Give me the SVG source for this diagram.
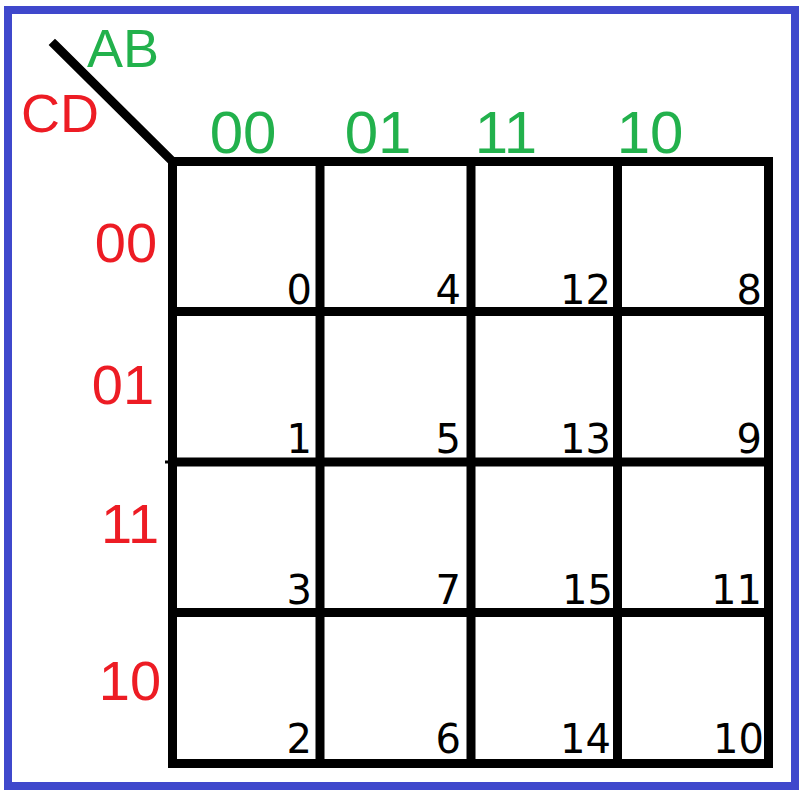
<svg xmlns="http://www.w3.org/2000/svg" width="806" height="796" viewBox="0 0 806 796">
<style>
.g{fill:#22b14c;font-family:"Liberation Sans",Arial,sans-serif;font-size:60px;text-anchor:middle}
.r{fill:#ed1c24;font-family:"Liberation Sans",Arial,sans-serif;font-size:56px;text-anchor:middle}
.h{font-size:54px}
.n{fill:#000;font-family:"DejaVu Sans",Verdana,sans-serif;font-size:40px;text-anchor:end}
.ln{stroke:#000;stroke-width:9;fill:none;stroke-linecap:square}
</style>
<rect x="8" y="10" width="787" height="776" fill="#fff" stroke="#3f48cc" stroke-width="8"/>
<g id="connectors">
<line class="ln" x1="55" y1="45" x2="172.5" y2="161.5" stroke-linecap="butt"/>
<path class="ln" d="M172.5 161.5H768.5M172.5 311.5H768.5M172.5 462H768.5M172.5 612.5H768.5M172.5 763.5H768.5M172.5 161.5V763.5M320 161.5V763.5M471 161.5V763.5M617.5 161.5V763.5M768.5 161.5V763.5"/>
<line x1="165" y1="462" x2="172" y2="462" stroke="#000" stroke-width="3"/>
</g>
<g id="header-AB"><text class="g h" x="123" y="67">AB</text></g>
<g id="header-CD"><text class="r h" x="60" y="132">CD</text></g>
<g id="col-00"><text class="g" x="243" y="153">00</text></g>
<g id="col-01"><text class="g" x="378" y="153">01</text></g>
<g id="col-11"><text class="g" x="506" y="153">11</text></g>
<g id="col-10"><text class="g" x="650" y="153">10</text></g>
<g id="row-00"><text class="r" x="126" y="262">00</text></g>
<g id="row-01"><text class="r" x="123" y="404">01</text></g>
<g id="row-11"><text class="r" x="130" y="543">11</text></g>
<g id="row-10"><text class="r" x="130" y="700">10</text></g>
<g id="cell-0"><text class="n" x="312" y="304">0</text></g>
<g id="cell-4"><text class="n" x="461" y="304">4</text></g>
<g id="cell-12"><text class="n" x="611" y="304">12</text></g>
<g id="cell-8"><text class="n" x="762" y="304">8</text></g>
<g id="cell-1"><text class="n" x="312" y="453">1</text></g>
<g id="cell-5"><text class="n" x="461" y="453">5</text></g>
<g id="cell-13"><text class="n" x="611" y="453">13</text></g>
<g id="cell-9"><text class="n" x="762" y="453">9</text></g>
<g id="cell-3"><text class="n" x="312" y="604">3</text></g>
<g id="cell-7"><text class="n" x="461" y="604">7</text></g>
<g id="cell-15"><text class="n" x="613" y="604">15</text></g>
<g id="cell-11"><text class="n" x="762" y="604">11</text></g>
<g id="cell-2"><text class="n" x="312" y="753">2</text></g>
<g id="cell-6"><text class="n" x="461" y="753">6</text></g>
<g id="cell-14"><text class="n" x="611" y="753">14</text></g>
<g id="cell-10"><text class="n" x="764" y="753">10</text></g>
</svg>
